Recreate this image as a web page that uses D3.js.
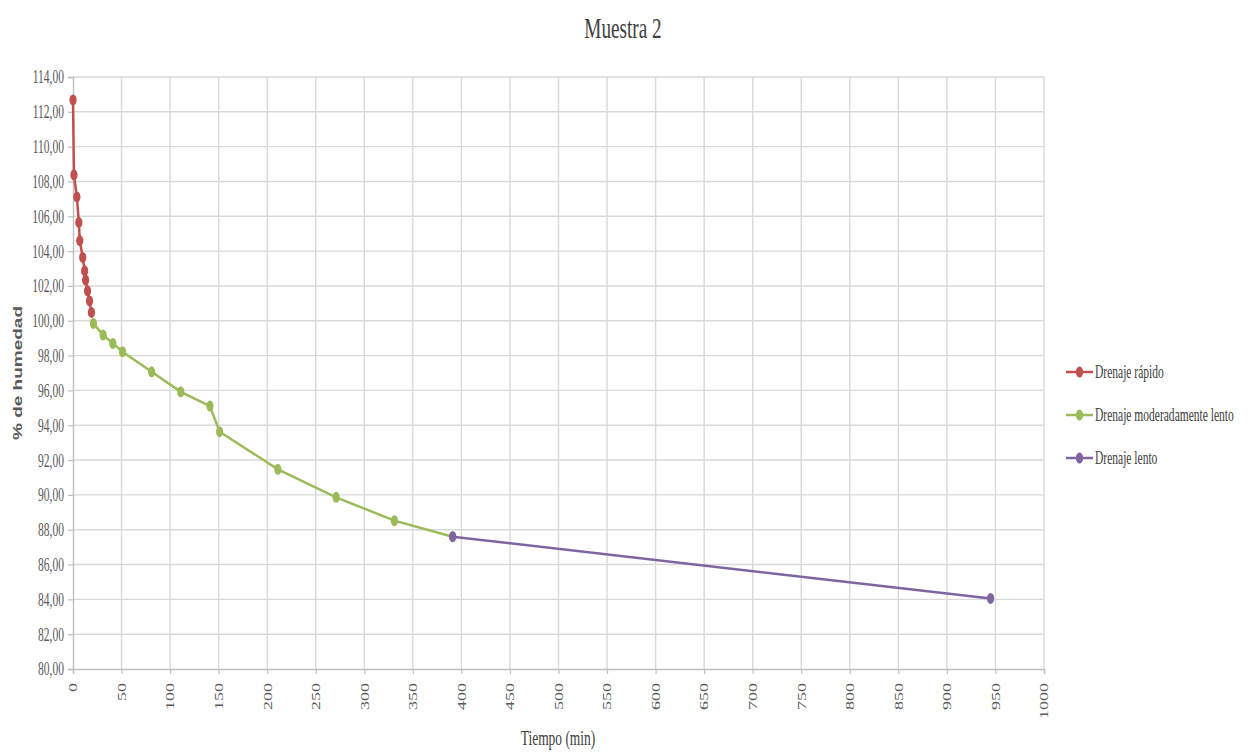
<!DOCTYPE html>
<html><head><meta charset="utf-8">
<script src="https://cdn.jsdelivr.net/npm/d3@7"></script>
<style>body{margin:0;background:#fff}svg{display:block}</style>
</head><body>
<svg id="c" width="1254" height="754"></svg>
<script>
const title = "Muestra 2";
const xTitle = "Tiempo (min)";
const yTitle = "% de humedad";
const seriesNames = ["Drenaje rápido", "Drenaje moderadamente lento", "Drenaje lento"];
const seriesColors = ["#c0504d", "#9bbb59", "#8064a2"];
const rapidoT = [0, 1, 4, 6, 7, 10, 12, 13, 15, 17, 19];
const rapidoH = [112.68, 108.38, 107.11, 105.65, 104.6, 103.64, 102.87, 102.34, 101.72, 101.14, 100.48];
const moderadoT = [21, 31, 41, 51, 81, 111, 141, 151, 211, 271, 331, 391];
const moderadoH = [99.85, 99.18, 98.70, 98.22, 97.07, 95.92, 95.10, 93.63, 91.47, 89.86, 88.52, 87.60];
const lentoT = [391, 945];
const lentoH = [87.60, 84.05];
const xTicks = d3.range(0, 1001, 50);
const yTicks = d3.range(80, 114.01, 2);

const SX = 0.64; // horizontal squeeze of text
const svg = d3.select("#c");
const x = d3.scaleLinear().domain([0, 1000]).range([73, 1044]);
const y = d3.scaleLinear().domain([80, 114]).range([669, 77]);
const fmt = v => d3.format(".2f")(v).replace(".", ",");

// grid
svg.append("g").selectAll("line").data(yTicks.filter(v => v > 80)).join("line")
  .attr("x1", x(0)).attr("x2", x(1000)).attr("y1", d => y(d)).attr("y2", d => y(d))
  .attr("stroke", "#d9d9d9").attr("stroke-width", 1.4);
svg.append("g").selectAll("line").data(xTicks.filter(v => v > 0)).join("line")
  .attr("y1", y(80)).attr("y2", y(114)).attr("x1", d => x(d)).attr("x2", d => x(d))
  .attr("stroke", "#d9d9d9").attr("stroke-width", 1.4);

// axes
const xAxis = svg.append("g").attr("transform", `translate(0,${y(80)})`)
  .call(d3.axisBottom(x).tickValues(xTicks).tickSize(5).tickFormat(d3.format("d")));
const yAxis = svg.append("g").attr("transform", `translate(${x(0)},0)`)
  .call(d3.axisLeft(y).tickValues(yTicks).tickSize(5).tickFormat(fmt));
[xAxis, yAxis].forEach(a => {
  a.attr("font-family", "Liberation Serif").attr("font-size", 18);
  a.select(".domain").attr("stroke", "#bfbfbf").attr("stroke-width", 1.4);
  a.selectAll(".tick line").attr("stroke", "#bfbfbf").attr("stroke-width", 1.2);
  a.selectAll("text").attr("fill", "#595959");
});
yAxis.selectAll(".tick text").attr("x", null).attr("dy", null)
  .attr("text-anchor", "end").attr("dominant-baseline", "central")
  .attr("transform", `translate(-9,0) scale(${SX},1)`);
xAxis.selectAll(".tick text").attr("y", null).attr("dy", null)
  .attr("text-anchor", "end").attr("dominant-baseline", "central")
  .attr("transform", `translate(0,14) scale(${SX},1) rotate(-90)`);

// series
const allSeries = [
  {t: rapidoT, h: rapidoH},
  {t: moderadoT, h: moderadoH},
  {t: lentoT, h: lentoH}
];
const line = d3.line().x(d => x(d[0])).y(d => y(d[1]));
allSeries.forEach((s, i) => {
  const pts = s.t.map((t, k) => [t, s.h[k]]);
  const g = svg.append("g");
  g.append("path").datum(pts).attr("d", line).attr("fill", "none")
    .attr("stroke", seriesColors[i]).attr("stroke-width", 2.5);
  g.selectAll("ellipse").data(pts).join("ellipse")
    .attr("cx", d => x(d[0])).attr("cy", d => y(d[1]))
    .attr("rx", 3.6).attr("ry", 5.5).attr("fill", seriesColors[i]);
});

// titles
svg.append("text").text(title).attr("text-anchor", "middle")
  .attr("transform", `translate(623,38) scale(${SX},1)`)
  .attr("font-family", "Liberation Serif").attr("font-size", 30).attr("fill", "#404040");
svg.append("text").text(xTitle).attr("text-anchor", "middle")
  .attr("transform", `translate(558,745) scale(${SX},1)`)
  .attr("font-family", "Liberation Serif").attr("font-size", 21).attr("fill", "#404040");
svg.append("text").text(yTitle).attr("text-anchor", "middle")
  .attr("transform", `translate(22,373) scale(${SX},1) rotate(-90)`)
  .attr("font-family", "Liberation Sans").attr("font-weight", "bold")
  .attr("font-size", 19).attr("fill", "#595959");

// legend
const leg = svg.append("g");
const legY = [372, 415, 458];
seriesNames.forEach((n, i) => {
  leg.append("line").attr("x1", 1066).attr("x2", 1093).attr("y1", legY[i]).attr("y2", legY[i])
    .attr("stroke", seriesColors[i]).attr("stroke-width", 2.5);
  leg.append("ellipse").attr("cx", 1079.5).attr("cy", legY[i]).attr("rx", 3.6).attr("ry", 5.5)
    .attr("fill", seriesColors[i]);
  leg.append("text").text(n).attr("dominant-baseline", "central")
    .attr("transform", `translate(1095,${legY[i]}) scale(${SX},1)`)
    .attr("font-family", "Liberation Serif").attr("font-size", 18).attr("fill", "#404040");
});
</script>
</body></html>
